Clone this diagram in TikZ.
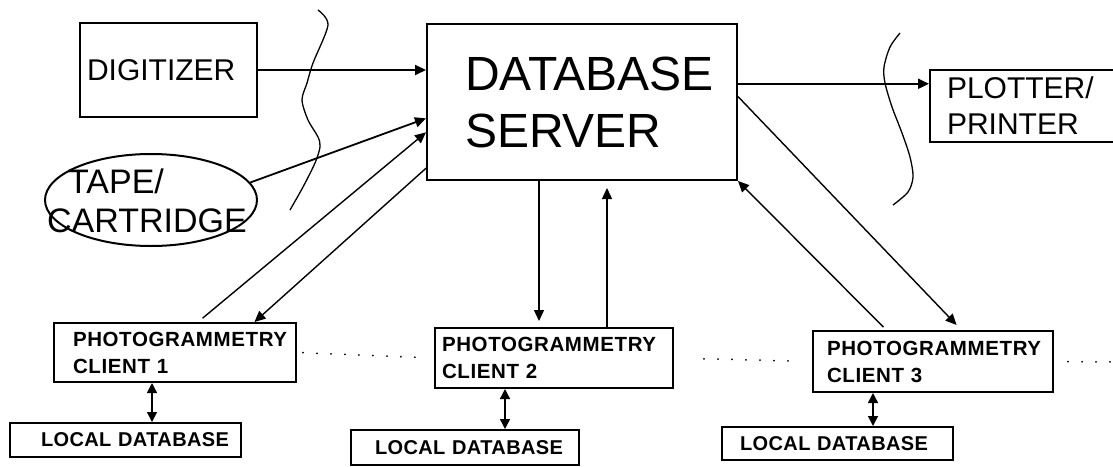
\documentclass[tikz,border=0pt]{standalone}
\usepackage{fontspec}
\setmainfont{Liberation Sans}
\usetikzlibrary{shapes.geometric,arrows.meta}

\begin{document}
\begin{tikzpicture}[x=1pt,y=-1pt,
    box/.style={draw,line width=2pt,inner sep=0pt,align=left},
    client/.style={box,font=\bfseries\fontsize{20.5}{27}\selectfont\addfontfeatures{LetterSpace=3}},
    ldb/.style={box,font=\bfseries\fontsize{20}{24}\selectfont\addfontfeatures{LetterSpace=2}},
    arr/.style={line width=1.4pt,-{Triangle[length=11pt,width=10pt]}},
    dblarr/.style={line width=1.4pt,{Triangle[length=10pt,width=10pt]}-{Triangle[length=10pt,width=10pt]}},
    dots/.style={line width=2pt,line cap=round,dash pattern=on 0pt off 14pt},
    wave/.style={line width=1.3pt}]
    \useasboundingbox (0,0) rectangle (1113,466);

    \node[box,minimum width=177pt,minimum height=94pt,text width=163pt,font=\fontsize{30}{36}\selectfont](dig)at(168.5,70){DIGITIZER};
    \node[box,minimum width=310pt,minimum height=156pt,text width=234pt,font=\fontsize{48}{57}\selectfont](srv)at(582,102){DATABASE\\SERVER};
    \node[box,minimum width=250pt,minimum height=72pt,text width=216pt,font=\fontsize{30}{36}\selectfont](plt)at(1055,106){PLOTTER/\\PRINTER};
    \node[draw,ellipse,line width=2pt,minimum width=212pt,minimum height=92pt,inner sep=0pt](tape)at(151,200){};
    \node[align=left,inner sep=0pt,font=\fontsize{34}{39}\selectfont](tapetxt)at(147,201){\hspace*{21pt}TAPE/\\CARTRIDGE};

    \node[client,minimum width=242pt,minimum height=59pt,text width=204pt](c1)at(175,352.5){PHOTOGRAMMETRY\\CLIENT~1};
    \node[client,minimum width=238pt,minimum height=60pt,text width=224pt](c2)at(554,358){PHOTOGRAMMETRY\\CLIENT~2};
    \node[client,minimum width=240pt,minimum height=61pt,text width=212pt](c3)at(933,361.5){PHOTOGRAMMETRY\\CLIENT~3};
    \node[ldb,minimum width=231pt,minimum height=34pt,text width=169pt](ldb1)at(125.5,440){LOCAL~DATABASE};
    \node[ldb,minimum width=228pt,minimum height=35pt,text width=180pt](ldb2)at(465,447.5){LOCAL~DATABASE};
    \node[ldb,minimum width=231pt,minimum height=33pt,text width=195pt](ldb3)at(837.5,443.5){LOCAL~DATABASE};
    \coordinate(more)at(1113,362);

    \draw[arr,line width=2pt] (dig.east) to (dig.east -| srv.west);
    \draw[arr,line width=2pt] (srv.east |- plt.170) to (plt.170);
    \draw[arr,line width=1.8pt] (tape.10) to (srv.186);
    \draw[arr,shorten <=6pt] (c1.53) to (srv.191);
    \draw[arr] (srv.203) to (c1.21);
    \draw[arr,shorten >=6pt] ([xshift=-43pt]srv.south) to ([xshift=-43pt]srv.south |- c2.north);
    \draw[arr,shorten >=7pt] ([xshift=53pt]c2.north) to ([xshift=53pt]c2.north |- srv.south);
    \draw[arr,shorten <=4pt] (c3.146) to (srv.south east);
    \draw[arr,shorten >=7pt] (srv.2) to (c3.48);

    \draw[dblarr] ([xshift=26.5pt]ldb1.north) to ([xshift=26.5pt]ldb1.north |- c1.south);
    \draw[dblarr] ([xshift=40pt]ldb2.north) to ([xshift=40pt]ldb2.north |- c2.south);
    \draw[dblarr] ([xshift=35.5pt]ldb3.north) to ([xshift=35.5pt]ldb3.north |- c3.south);

    \draw[dots,shorten <=6pt,shorten >=18pt] (c1.east) to (c2.west);
    \draw[dots,shorten <=30pt,shorten >=21pt] (c2.east) to (c3.west);
    \draw[dots,shorten <=14pt] (c3.east) to (more);

    \draw[wave] plot[smooth] coordinates {(318,10) (328,25) (313,63) (307,83) (302,100) (308,120) (318,137) (320,147) (315,163) (303,187) (290,210)};
    \draw[wave] plot[smooth] coordinates {(900,33) (890,47) (884,67) (885,83) (892,107) (902,133) (910,157) (913,177) (908,192) (893,205)};
  \end{tikzpicture}
\end{document}
